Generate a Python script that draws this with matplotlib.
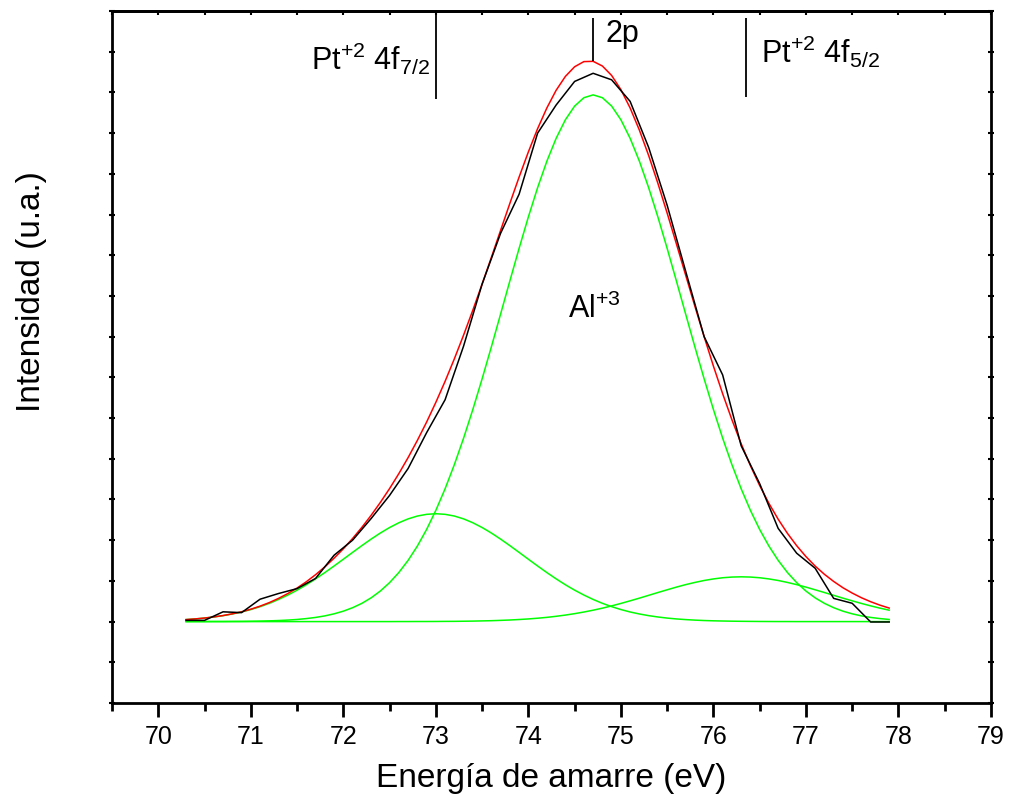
import numpy as np
import matplotlib
matplotlib.use('Agg')
import matplotlib.pyplot as plt

# Fuente tipo Arial y mathtext en la misma familia
plt.rcParams['font.family'] = ['Liberation Sans', 'DejaVu Sans']
plt.rcParams['mathtext.fontset'] = 'custom'
plt.rcParams['mathtext.rm'] = 'Liberation Sans'
plt.rcParams['mathtext.it'] = 'Liberation Sans:italic'
plt.rcParams['mathtext.default'] = 'regular'

# Espectro XPS Al 2p / Pt 4f medido (paso de 0.2 eV)
energy = np.round(np.arange(70.3, 77.91, 0.2), 1)

counts = [2.03, 2.03, 2.24, 2.22, 2.55, 2.69, 2.81, 3.06, 3.63, 4.00,
          4.53, 5.10, 5.76, 6.64, 7.45, 8.77, 10.29, 11.54, 12.50, 14.00,
          14.69, 15.27, 15.47, 15.31, 14.78, 13.65, 12.23, 10.61, 9.00, 8.06,
          6.32, 5.39, 4.29, 3.68, 3.31, 2.57, 2.45, 1.99, 1.99]

# Componentes del ajuste (paso de 0.1 eV, sobre la linea base)
fit_energy = np.round(np.arange(70.3, 77.91, 0.1), 1)
baseline = 2.0

pt_4f72 = [0.049, 0.065, 0.086, 0.113, 0.146, 0.187, 0.236, 0.296, 0.367, 0.449,
           0.544, 0.652, 0.772, 0.905, 1.050, 1.204, 1.366, 1.532, 1.700, 1.866,
           2.026, 2.176, 2.311, 2.428, 2.523, 2.593, 2.635, 2.650, 2.635, 2.593,
           2.523, 2.428, 2.311, 2.176, 2.026, 1.866, 1.700, 1.532, 1.366, 1.204,
           1.050, 0.905, 0.772, 0.652, 0.544, 0.449, 0.367, 0.296, 0.236, 0.187,
           0.146, 0.113, 0.086, 0.065, 0.049, 0.036, 0.026, 0.019, 0.014, 0.010,
           0.007, 0.005, 0.003, 0.002, 0.001, 0.001, 0.0, 0.0, 0.0, 0.0,
           0.0, 0.0, 0.0, 0.0, 0.0, 0.0, 0.0]

al_2p = [0.000, 0.001, 0.001, 0.002, 0.002, 0.004, 0.005, 0.008, 0.012, 0.018,
         0.026, 0.037, 0.052, 0.074, 0.102, 0.140, 0.191, 0.256, 0.341, 0.448,
         0.583, 0.751, 0.957, 1.206, 1.504, 1.855, 2.263, 2.733, 3.263, 3.856,
         4.507, 5.212, 5.963, 6.748, 7.556, 8.369, 9.170, 9.941, 10.661, 11.311,
         11.872, 12.328, 12.664, 12.870, 12.940, 12.870, 12.664, 12.328, 11.872, 11.311,
         10.661, 9.941, 9.170, 8.369, 7.556, 6.748, 5.963, 5.212, 4.507, 3.856,
         3.263, 2.733, 2.263, 1.855, 1.504, 1.206, 0.957, 0.751, 0.583, 0.448,
         0.341, 0.256, 0.191, 0.140, 0.102, 0.074, 0.052]

pt_4f52 = [0.0, 0.0, 0.0, 0.0, 0.0, 0.0, 0.0, 0.0, 0.0, 0.0,
           0.0, 0.0, 0.0, 0.0, 0.0, 0.0, 0.0, 0.0, 0.0, 0.0,
           0.0, 0.0, 0.000, 0.001, 0.001, 0.002, 0.002, 0.003, 0.005, 0.006,
           0.009, 0.012, 0.017, 0.022, 0.030, 0.039, 0.051, 0.065, 0.083, 0.104,
           0.130, 0.160, 0.195, 0.235, 0.280, 0.330, 0.386, 0.446, 0.510, 0.576,
           0.645, 0.714, 0.781, 0.847, 0.908, 0.962, 1.010, 1.048, 1.077, 1.094,
           1.100, 1.094, 1.077, 1.048, 1.010, 0.962, 0.908, 0.847, 0.781, 0.714,
           0.645, 0.576, 0.510, 0.446, 0.386, 0.330, 0.280]

components = [pt_4f72, al_2p, pt_4f52]
envelope = baseline + np.sum(np.array(components), axis=0)

# Posiciones de las marcas de los picos
marker_energy = [73.0, 74.7, 76.35]
marker_bottom = [14.85, 15.76, 14.88]
marker_top = [16.91, 16.84, 16.84]

fig = plt.figure(figsize=(10.12, 8.1), dpi=100)
ax = fig.add_axes([0.1107, 0.1321, 0.8685, 0.8543])

for comp in components:
    ax.plot(fit_energy, baseline + np.array(comp), color='#00ff00', lw=1.1)
ax.plot(fit_energy, envelope, color='#ff0000', lw=1.1)
ax.plot(energy, counts, color='black', lw=1.1)

ax.vlines(marker_energy, marker_bottom, marker_top, color='black', lw=1.3)

# Etiquetas de los picos
ax.text(71.65, 15.56, r'Pt$^{+2}$ 4f$_{7/2}$', fontsize=22, va='baseline')
ax.text(74.83, 16.23, '2p', fontsize=22, va='baseline')
ax.text(76.51, 15.72, r'Pt$^{+2}$ 4f$_{5/2}$', fontsize=22, va='baseline')
ax.text(74.43, 9.47, r'Al$^{+3}$', fontsize=22, va='baseline')

ax.set_xlim(69.5, 79)
ax.set_ylim(0, 17)
ax.set_xticks(np.arange(70, 80, 1))
ax.set_xticks(np.arange(69.5, 79.1, 0.5), minor=True)
ax.set_yticks(np.arange(0, 18, 1))
ax.set_yticklabels([])

ax.tick_params(axis='x', which='major', direction='out', length=10, width=2,
               labelsize=18, pad=6)
ax.tick_params(axis='x', which='minor', direction='out', length=6, width=2)
ax.tick_params(axis='y', which='major', direction='inout', length=5, width=1.5,
               left=True, right=True)

top = ax.secondary_xaxis('top')
top.set_xticks(np.arange(69.5, 79.1, 0.5))
top.tick_params(direction='in', length=3, width=1.5, labeltop=False)
top.spines['top'].set_linewidth(2)

for sp in ax.spines.values():
    sp.set_linewidth(2)

ax.set_xlabel('Energía de amarre (eV)', fontsize=24, labelpad=10)
ax.set_ylabel('Intensidad (u.a.)', fontsize=24)
ax.yaxis.set_label_coords(-0.074, 0.594)

fig.savefig('out.png', dpi=100)
